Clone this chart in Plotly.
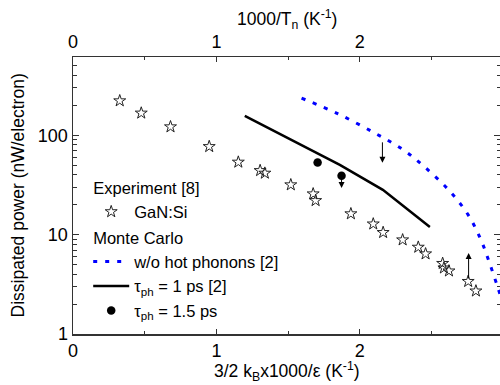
import numpy as np
import plotly.graph_objects as go

# ---- data ----
exp_x = [0.326, 0.476, 0.680, 0.950, 1.153, 1.305, 1.338, 1.519, 1.675, 1.692,
         1.938, 2.094, 2.163, 2.299, 2.408, 2.459, 2.578, 2.587, 2.622, 2.756, 2.810]
exp_y = [222, 167, 121.5, 76.9, 53.6, 44.1, 41.5, 31.7, 25.7, 22.0,
         16.2, 12.8, 10.5, 8.85, 7.47, 6.40, 5.13, 4.62, 4.31, 3.38, 2.71]

nohot_x = [1.594, 1.849, 2.105, 2.303, 2.454, 2.624, 2.756, 2.845, 2.908, 2.966, 3.0]
nohot_y = [236, 164, 105, 71.3, 47.7, 27.7, 15.8, 8.85, 5.03, 2.84, 2.0]

tau1_x = [1.198, 1.582, 1.861, 2.161, 2.489]
tau1_y = [156.7, 81.9, 50.4, 28.2, 11.9]

tau15_x = [1.706, 1.873]
tau15_y = [53.1, 39.0]

# arrows: x, tail value, head value
arrow_x = [2.158, 1.873, 2.759]
arrow_tail = [87.8, 39.0, 3.5]
arrow_head = [52.7, 29.5, 6.54]

x_ticks = [0, 1, 2, 3]
y_ticks = [1, 10, 100]
y_tick_text = ["1", "10", "100"]

FONT = "Liberation Sans, Arial, Helvetica, sans-serif"
AX = "#333333"

fig = go.Figure()

fig.add_trace(go.Scatter(
    x=exp_x, y=exp_y, mode="markers", name="GaN:Si",
    legendgroup="exp", legendgrouptitle=dict(text="Experiment [8]"),
    marker=dict(symbol="star-open", size=9, color="#222222", line=dict(width=1, color="#222222")),
))
fig.add_trace(go.Scatter(
    x=nohot_x, y=nohot_y, mode="lines", name="w/o hot phonons [2]",
    legendgroup="mc", legendgrouptitle=dict(text="Monte Carlo"),
    line=dict(color="#0000ff", width=3, dash="4px,8px", shape="spline"),
))
fig.add_trace(go.Scatter(
    x=tau1_x, y=tau1_y, mode="lines", name="τ<sub>ph</sub> = 1 ps [2]",
    legendgroup="mc", line=dict(color="black", width=2.5),
))
fig.add_trace(go.Scatter(
    x=tau15_x, y=tau15_y, mode="markers", name="τ<sub>ph</sub> = 1.5 ps",
    legendgroup="mc", marker=dict(symbol="circle", size=8.5, color="black"),
))
# invisible trace to activate the top axis
fig.add_trace(go.Scatter(x=[], y=[], xaxis="x2", showlegend=False, hoverinfo="skip"))

for xa, ta, yh in zip(arrow_x, arrow_tail, arrow_head):
    fig.add_annotation(
        x=xa, y=np.log10(yh), ax=xa, ay=np.log10(ta),
        xref="x", yref="y", axref="x", ayref="y",
        text="", showarrow=True, arrowhead=2, arrowsize=1.2, arrowwidth=1,
        arrowcolor="black", standoff=0, startstandoff=0,
    )

# axis titles
fig.add_annotation(text="3/2 k<sub>B</sub>x1000/ε (K<sup>-1</sup>)", xref="paper", yref="paper",
                   x=0.5, y=-0.136, xanchor="center", yanchor="middle", showarrow=False,
                   font=dict(size=17.5))
fig.add_annotation(text="1000/T<sub>n</sub> (K<sup>-1</sup>)", xref="paper", yref="paper",
                   x=0.5, y=1.137, xanchor="center", yanchor="middle", showarrow=False,
                   font=dict(size=17.5))
fig.add_annotation(text="Dissipated power (nW/electron)", xref="paper", yref="paper",
                   x=-0.129, y=0.5, xanchor="center", yanchor="middle", showarrow=False,
                   textangle=-90, font=dict(size=17.5))

common_x = dict(
    range=[0, 2.978], tickvals=x_ticks, ticks="inside", ticklen=5, tickwidth=1,
    tickcolor=AX, showline=True, linecolor=AX, linewidth=1.5, showgrid=False,
    zeroline=False, tickfont=dict(size=18, color="black"), automargin=False,
    minor=dict(ticks="inside", ticklen=3, dtick=0.5, tickcolor=AX, showgrid=False),
)

fig.update_layout(
    width=500, height=385,
    margin=dict(l=73, r=0, t=57, b=51),
    paper_bgcolor="white", plot_bgcolor="white",
    font=dict(family=FONT, size=17.5, color="black"),
    xaxis=dict(**common_x),
    xaxis2=dict(**common_x, overlaying="x", side="top"),
    yaxis=dict(type="log", range=[0, 2.787], tickvals=y_ticks, ticktext=y_tick_text,
               ticks="inside", ticklen=6, tickwidth=1, tickcolor=AX,
               showline=True, linecolor=AX, linewidth=1.5, mirror="ticks",
               showgrid=False, zeroline=False, tickfont=dict(size=18, color="black"),
               automargin=False,
               minor=dict(ticks="inside", ticklen=3.5, dtick="D1", tickcolor=AX, showgrid=False)),
    showlegend=True,
    legend=dict(x=0.0356, y=0.592, xanchor="left", yanchor="top",
                bgcolor="rgba(0,0,0,0)", borderwidth=0, tracegroupgap=1,
                itemwidth=36,
                traceorder="grouped", font=dict(size=16.5, color="black"),
                grouptitlefont=dict(size=16.5, color="black")),
)

fig.write_html(
    "out.html",
    config={"displayModeBar": False, "staticPlot": True},
    post_script="document.body.style.margin='0';document.body.style.padding='0';"
                "document.body.style.overflow='hidden';",
)
